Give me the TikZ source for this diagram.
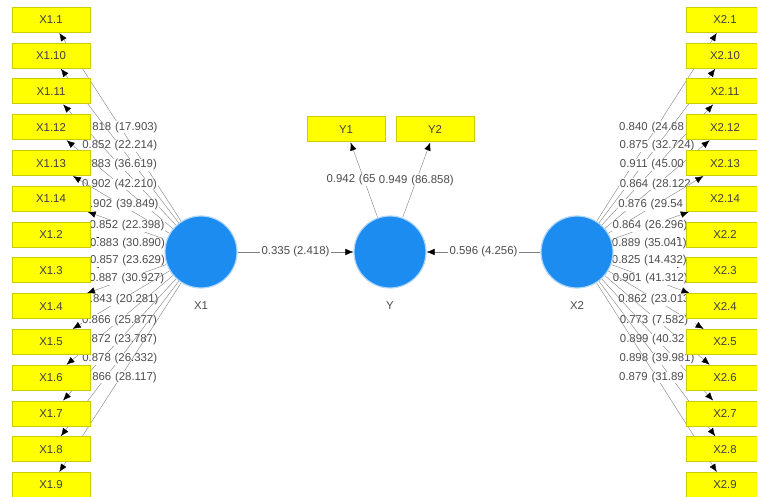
\documentclass[tikz,border=0pt]{standalone}
\usepackage{fontspec}
\setmainfont{Liberation Sans}
\usetikzlibrary{arrows.meta,backgrounds}
\definecolor{plsblue}{RGB}{28,140,240}
\definecolor{plsyellow}{RGB}{255,255,0}

\begin{document}
\begin{tikzpicture}[x=1pt,y=-1pt,line width=1.3pt,
    >={Latex[length=8pt,width=6.5pt,color=black]},
    indicator/.style={draw=plsyellow!80!black,fill=plsyellow,line width=1pt,minimum width=78pt,
      minimum height=25pt,inner sep=0pt,text=black!75,font=\fontsize{11.4}{13}\selectfont},
    construct/.style={circle,fill=plsblue,draw=plsblue!35!white,line width=1.2pt,
      minimum size=72pt,inner sep=0pt},
    cname/.style={text=black!70,font=\fontsize{11.4}{13}\selectfont},
    coef/.style={fill=white,inner sep=2pt,text=black!70,font=\fontsize{11.4}{13}\selectfont},
    loading/.style={coef,inner sep=0.6pt,text width=75pt,align=left},
    link/.style={draw=black!50}]
        \useasboundingbox (0,0) rectangle (757,497);

        % latent variables
        \node[construct](X1) at (201, 252) {};
        \node[construct](Y) at (390, 252) {};
        \node[construct](X2) at (577, 252) {};
        \node[cname](X1name) at (201, 306) {X1};
        \node[cname](Yname) at (390, 306) {Y};
        \node[cname](X2name) at (577, 306) {X2};

        % indicators of X1
        \node[indicator](X1-1) at (51, 20) {X1.1};
        \node[indicator](X1-10) at (51, 55.8) {X1.10};
        \node[indicator](X1-11) at (51, 91.5) {X1.11};
        \node[indicator](X1-12) at (51, 127.3) {X1.12};
        \node[indicator](X1-13) at (51, 163.1) {X1.13};
        \node[indicator](X1-14) at (51, 198.9) {X1.14};
        \node[indicator](X1-2) at (51, 234.6) {X1.2};
        \node[indicator](X1-3) at (51, 270.4) {X1.3};
        \node[indicator](X1-4) at (51, 306.2) {X1.4};
        \node[indicator](X1-5) at (51, 341.9) {X1.5};
        \node[indicator](X1-6) at (51, 377.7) {X1.6};
        \node[indicator](X1-7) at (51, 413.5) {X1.7};
        \node[indicator](X1-8) at (51, 449.2) {X1.8};
        \node[indicator](X1-9) at (51, 485) {X1.9};

        % indicators of X2
        \node[indicator](X2-1) at (725, 20) {X2.1};
        \node[indicator](X2-10) at (725, 55.8) {X2.10};
        \node[indicator](X2-11) at (725, 91.5) {X2.11};
        \node[indicator](X2-12) at (725, 127.3) {X2.12};
        \node[indicator](X2-13) at (725, 163.1) {X2.13};
        \node[indicator](X2-14) at (725, 198.9) {X2.14};
        \node[indicator](X2-2) at (725, 234.6) {X2.2};
        \node[indicator](X2-3) at (725, 270.4) {X2.3};
        \node[indicator](X2-4) at (725, 306.2) {X2.4};
        \node[indicator](X2-5) at (725, 341.9) {X2.5};
        \node[indicator](X2-6) at (725, 377.7) {X2.6};
        \node[indicator](X2-7) at (725, 413.5) {X2.7};
        \node[indicator](X2-8) at (725, 449.2) {X2.8};
        \node[indicator](X2-9) at (725, 485) {X2.9};

        % indicators of Y
        \node[indicator](Y1) at (346, 129.5) {Y1};
        \node[indicator](Y2) at (435, 129.5) {Y2};

        \begin{scope}[on background layer]
        \draw[link,->] (X1) edge node[loading] {0.818 (17.903)} (X1-1)
                  (X1) edge node[loading] {0.852 (22.214)} (X1-10)
                  (X1) edge node[loading] {0.883 (36.619)} (X1-11)
                  (X1) edge node[loading] {0.902 (42.210)} (X1-12)
                  (X1) edge node[loading] {0.902 (39.849)} (X1-13)
                  (X1) edge node[loading] {0.852 (22.398)} (X1-14)
                  (X1) edge node[loading] {0.883 (30.890)} (X1-2)
                  (X1) edge node[loading] {0.857 (23.629)} (X1-3)
                  (X1) edge node[loading] {0.887 (30.927)} (X1-4)
                  (X1) edge node[loading] {0.843 (20.281)} (X1-5)
                  (X1) edge node[loading] {0.866 (25.877)} (X1-6)
                  (X1) edge node[loading] {0.872 (23.787)} (X1-7)
                  (X1) edge node[loading] {0.878 (26.332)} (X1-8)
                  (X1) edge node[loading] {0.866 (28.117)} (X1-9);

        \draw[link,->] (X2) edge node[loading] {0.840 (24.68} (X2-1)
                  (X2) edge node[loading] {0.875 (32.724)} (X2-10)
                  (X2) edge node[loading] {0.911 (45.00} (X2-11)
                  (X2) edge node[loading] {0.864 (28.122} (X2-12)
                  (X2) edge node[loading] {0.876 (29.54} (X2-13)
                  (X2) edge node[loading] {0.864 (26.296)} (X2-14)
                  (X2) edge node[loading] {0.889 (35.041)} (X2-2)
                  (X2) edge node[loading] {0.825 (14.432)} (X2-3)
                  (X2) edge node[loading] {0.901 (41.312)} (X2-4)
                  (X2) edge node[loading] {0.862 (23.013} (X2-5)
                  (X2) edge node[loading] {0.773 (7.582)} (X2-6)
                  (X2) edge node[loading] {0.899 (40.32} (X2-7)
                  (X2) edge node[loading] {0.898 (39.981)} (X2-8)
                  (X2) edge node[loading] {0.879 (31.89} (X2-9);

        \draw[link,->] (Y) edge node[loading] {0.942 (65} (Y1)
                  (Y) edge node[loading] {0.949 (86.858)} (Y2)
                  (X1) edge node[coef] {0.335 (2.418)} (Y)
                  (X2) edge node[coef] {0.596 (4.256)} (Y);
        \end{scope}
      \end{tikzpicture}
\end{document}
